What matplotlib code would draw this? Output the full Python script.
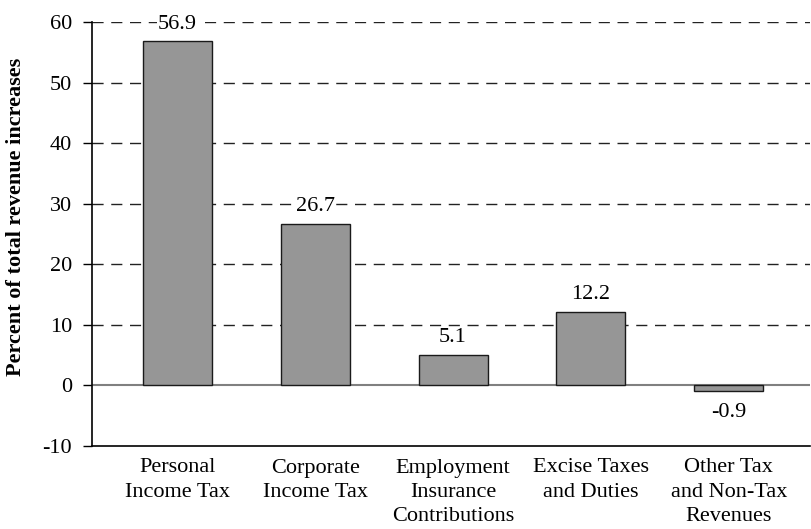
import numpy as np
import matplotlib.pyplot as plt

plt.rcParams['font.family'] = ['Liberation Serif', 'DejaVu Serif']

categories = ['Personal\nIncome Tax', 'Corporate\nIncome Tax', 'Employment\nInsurance\nContributions',
              'Excise Taxes\nand Duties', 'Other Tax\nand Non-Tax\nRevenues']
values = [56.9, 26.7, 5.1, 12.2, -0.9]
yticks = [-10, 0, 10, 20, 30, 40, 50, 60]

fs = 16

fig = plt.figure(figsize=(8.11, 5.29), dpi=100)
ax = fig.add_axes([92 / 811, 1 - 446 / 529, 718 / 811, 424 / 529])

x = np.arange(len(values))
ax.bar(x, values, width=0.5, color='#969696', edgecolor='#1a1a1a', linewidth=1.0, zorder=3)

# dashed gridlines
for t in yticks[2:]:
    ax.axhline(t, color='#222222', linestyle=(0, (8, 5.5)), linewidth=1.0, zorder=1)
ax.axhline(0, color='#808080', linewidth=1.5, zorder=2)

for xi, v in zip(x, values):
    if v >= 0:
        ax.text(xi, v + 1.2, f'{v:.1f}', ha='center', va='bottom', fontsize=fs,
                bbox=dict(facecolor='white', edgecolor='none', pad=1), zorder=4)
    else:
        ax.text(xi, v - 2.0, f'{v:.1f}', ha='center', va='top', fontsize=fs, zorder=4)

ax.set_xlim(-0.62, 4.59)
ax.set_ylim(-10, 60)
ax.set_yticks(yticks)
ax.set_yticklabels([str(t) for t in yticks], fontsize=fs)
ax.set_xticks(x)
ax.set_xticklabels(categories, fontsize=fs, va='top', linespacing=1.38)
ax.tick_params(axis='x', length=0, pad=9)
ax.tick_params(axis='y', length=6.5, width=1, direction='out', pad=8)

ax.spines['top'].set_visible(False)
ax.spines['right'].set_visible(False)
ax.spines['left'].set_linewidth(1.2)
ax.spines['bottom'].set_linewidth(1.2)

ax.set_ylabel('Percent of total revenue increases', fontsize=fs, fontweight='bold')
ax.yaxis.set_label_coords(-0.092, 0.54)

fig.savefig('out.png', dpi=100)
